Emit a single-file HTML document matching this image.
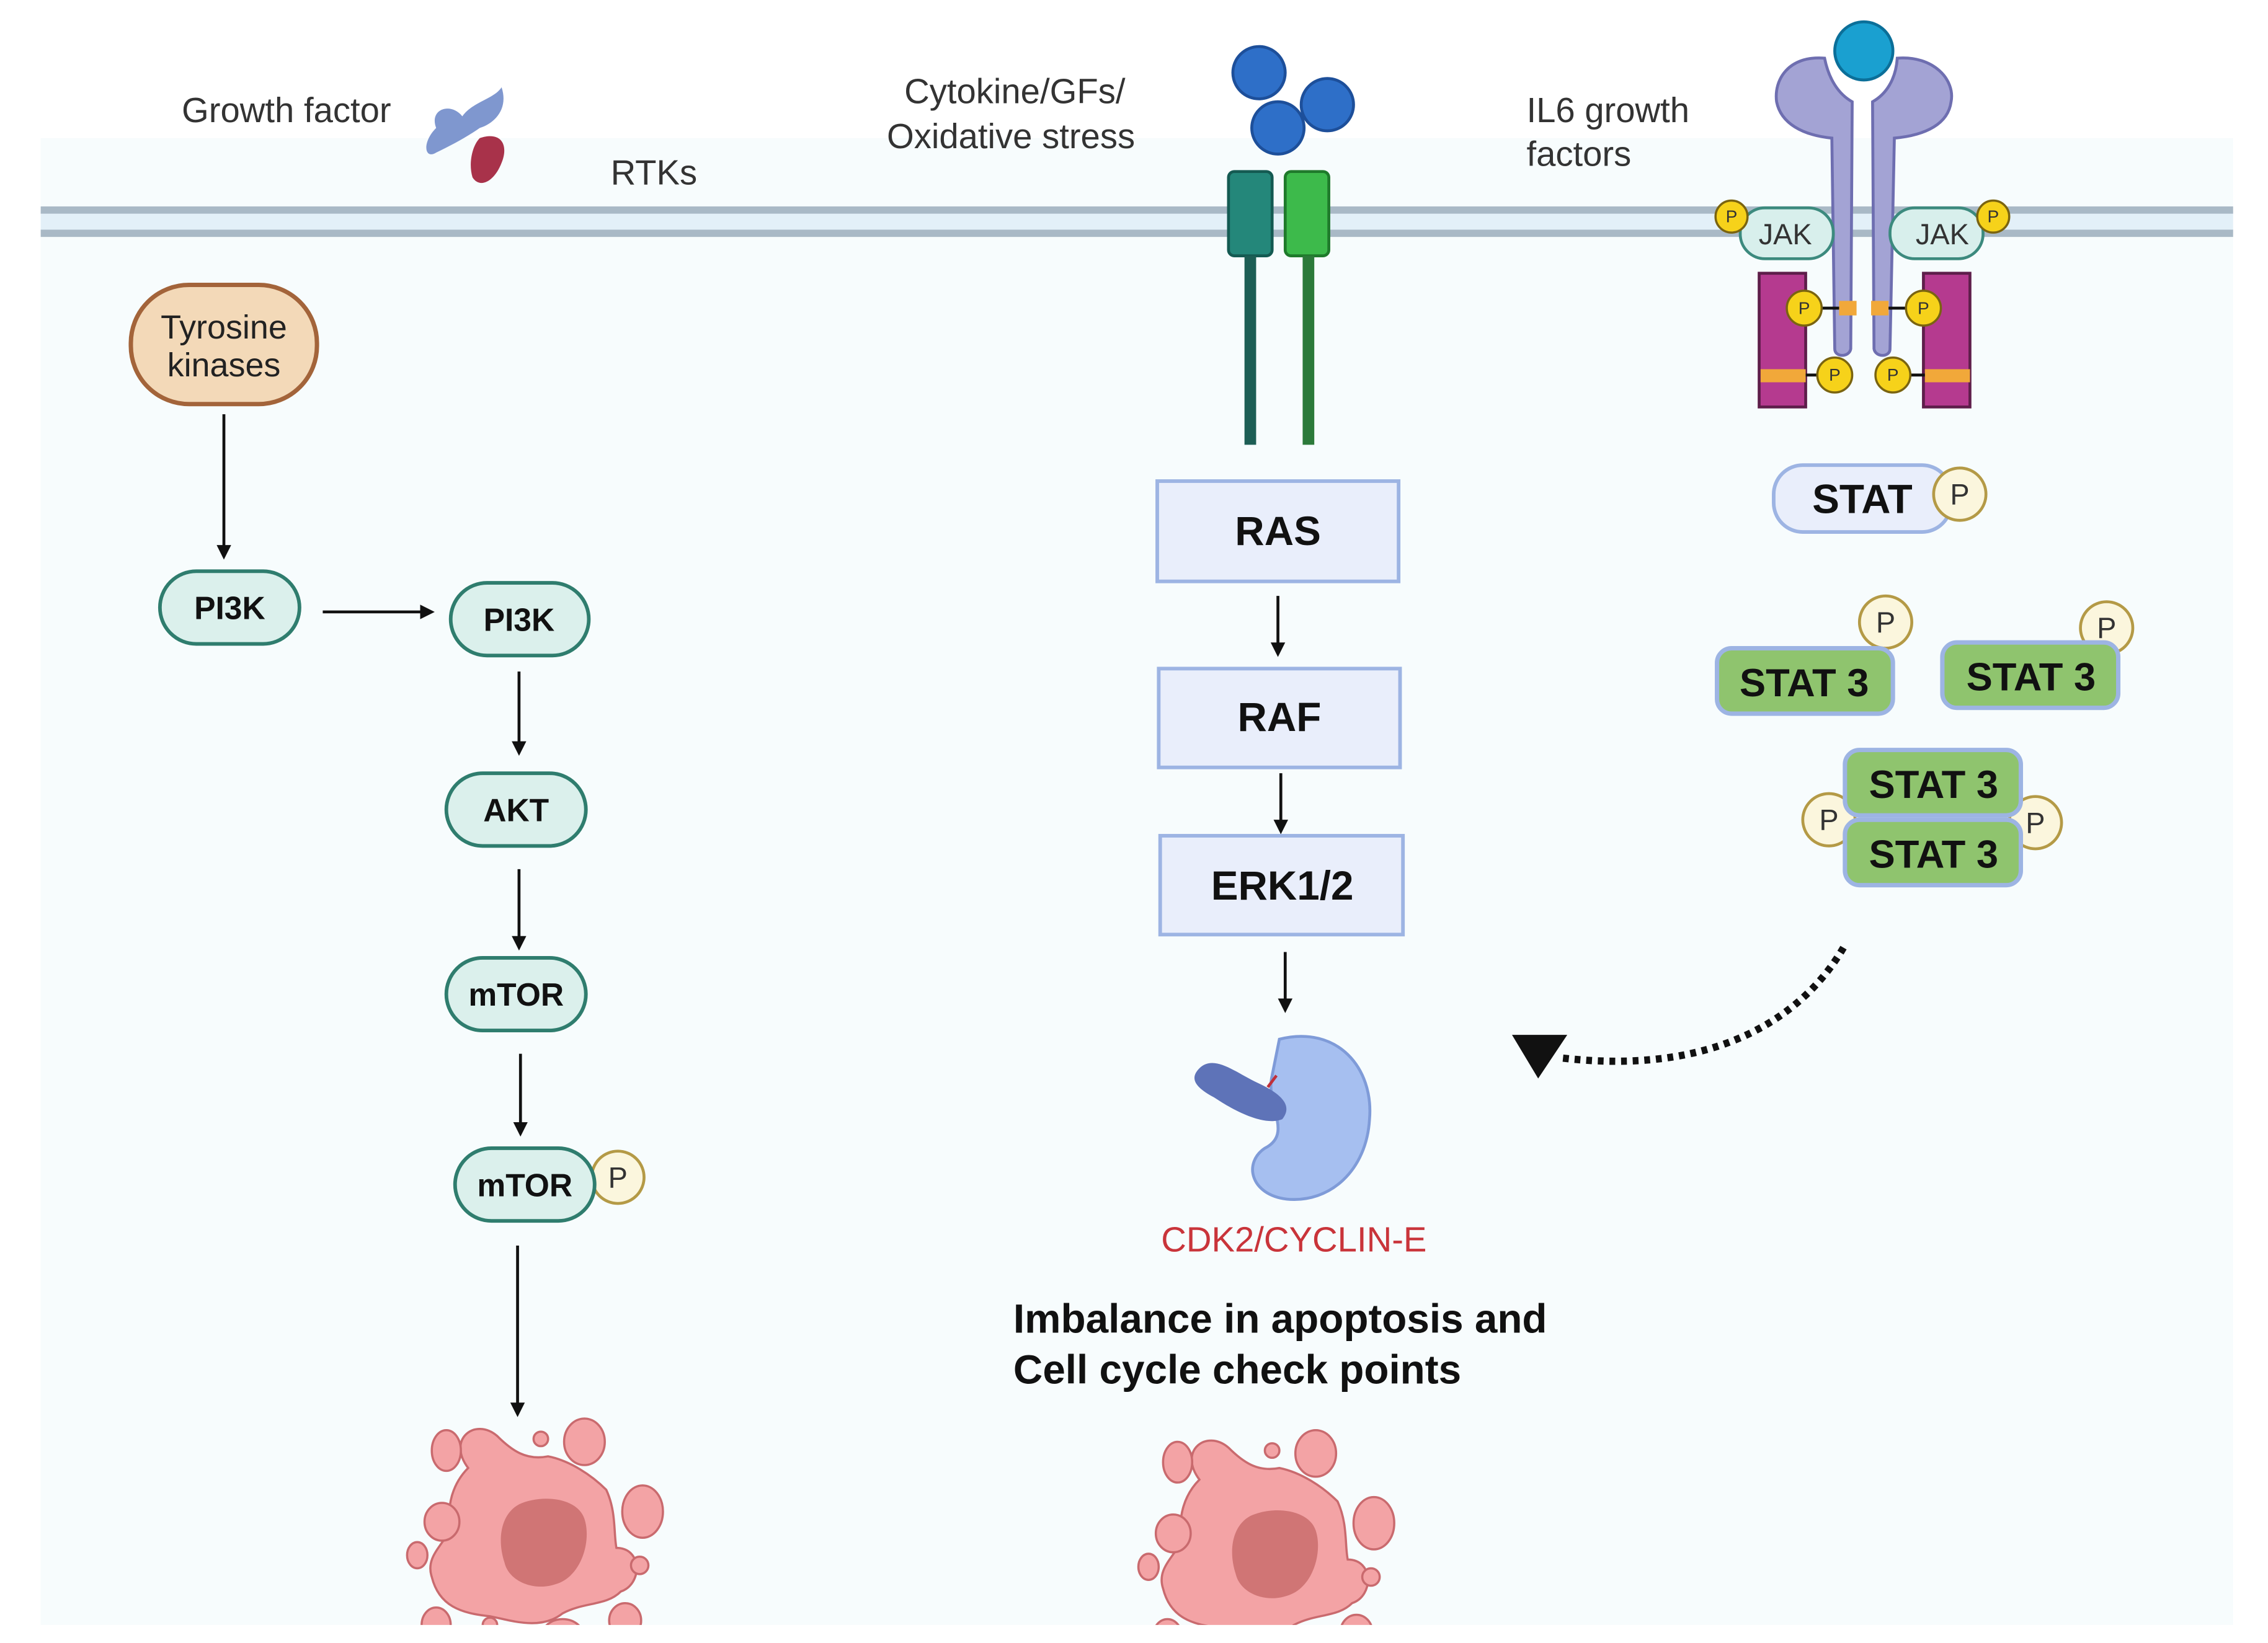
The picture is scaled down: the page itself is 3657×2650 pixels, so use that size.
<!DOCTYPE html>
<html><head><meta charset="utf-8"><style>
html,body{margin:0;padding:0;background:#fff}
svg{display:block}
text{font-family:"Liberation Sans",Arial,sans-serif}
</style></head><body>
<svg width="3657" height="2650" viewBox="0 0 1560 1130.4" xmlns="http://www.w3.org/2000/svg">
<defs>
<marker id="ah" markerWidth="10" markerHeight="10" refX="8" refY="5" orient="auto" markerUnits="userSpaceOnUse"><path d="M0,0 L10,5 L0,10 z" fill="#111"/></marker>
<clipPath id="pc"><rect x="28" y="95" width="1508" height="1023"/></clipPath>
<g id="cell">
<g fill="#f3a3a5" stroke="#c96a6e" stroke-width="1.5">
<path d="M-40,-40 C-55,-60 -35,-75 -20,-62 C-10,-52 0,-45 15,-48 C30,-45 45,-35 55,-25 C62,-10 60,5 62,15 C80,15 80,40 65,45 C55,55 40,52 25,60 C10,72 -10,65 -25,62 C-45,60 -60,55 -65,35 C-70,20 -55,12 -52,0 C-55,-15 -50,-30 -40,-40 z"/>
<ellipse cx="-55" cy="-52" rx="10" ry="14"/>
<ellipse cx="40" cy="-58" rx="14" ry="16"/>
<ellipse cx="-58" cy="-3" rx="12" ry="13"/>
<ellipse cx="80" cy="-10" rx="14" ry="18"/>
<ellipse cx="-75" cy="20" rx="7" ry="9"/>
<ellipse cx="-62" cy="68" rx="10" ry="12"/>
<ellipse cx="25" cy="75" rx="14" ry="11"/>
<ellipse cx="68" cy="65" rx="11" ry="12"/>
<circle cx="-25" cy="68" r="5"/>
<circle cx="10" cy="-60" r="5"/>
<circle cx="78" cy="27" r="6"/>
</g>
<path d="M-5,-15 C10,-22 35,-20 40,-5 C45,10 38,35 20,40 C5,45 -12,38 -15,25 C-20,10 -18,-8 -5,-15 z" fill="#d07575"/>
</g>
</defs>
<rect x="28" y="95" width="1508" height="1023" fill="#f7fcfd"/>
<!-- membrane -->
<rect x="28" y="145" width="1508" height="15" fill="#e3f0f8"/>
<rect x="28" y="142" width="1508" height="5" fill="#a9b9c6"/>
<rect x="28" y="158" width="1508" height="5" fill="#a9b9c6"/>

<!-- top labels -->
<text x="125" y="84" font-size="24" fill="#333">Growth factor</text>
<text x="420" y="127" font-size="24" fill="#333">RTKs</text>
<text x="622" y="71" font-size="24" fill="#333">Cytokine/GFs/</text>
<text x="610" y="102" font-size="24" fill="#333">Oxidative stress</text>
<text x="1050" y="84" font-size="24" fill="#333">IL6 growth</text>
<text x="1050" y="114" font-size="24" fill="#333">factors</text>

<!-- growth factor glyph -->
<path d="M300,88 C295,75 310,70 318,80 C325,70 340,68 345,60 C350,75 340,85 330,88 C320,95 310,100 300,105 C292,110 290,98 300,88 z" fill="#7f97cf"/>
<path d="M330,95 C345,90 350,100 345,112 C340,125 330,130 325,122 C322,112 325,100 330,95 z" fill="#a8324a"/>

<!-- cytokine balls -->
<circle cx="866" cy="50" r="18" fill="#2e6fc8" stroke="#1d4f9a" stroke-width="2"/>
<circle cx="879" cy="88" r="18" fill="#2e6fc8" stroke="#1d4f9a" stroke-width="2"/>
<circle cx="913" cy="72" r="18" fill="#2e6fc8" stroke="#1d4f9a" stroke-width="2"/>
<!-- receptor -->
<rect x="845" y="118" width="30" height="58" rx="4" fill="#24877a" stroke="#145a52" stroke-width="2"/>
<rect x="884" y="118" width="30" height="58" rx="4" fill="#3dba4b" stroke="#1f7a2b" stroke-width="2"/>
<rect x="856" y="176" width="8" height="130" fill="#1d5e55"/>
<rect x="896" y="176" width="8" height="130" fill="#2c7a3a"/>

<!-- IL6 receptor -->
<path d="M1255,40 C1230,38 1220,55 1222,70 C1225,85 1240,93 1260,95 L1262,240 C1262,246 1272,246 1273,240 L1274,70 C1265,65 1258,55 1255,40 z" fill="#a3a3d4" stroke="#6e6eb0" stroke-width="2"/>
<path d="M1305,40 C1330,38 1345,55 1342,70 C1340,85 1325,93 1303,95 L1300,240 C1300,246 1290,246 1289,240 L1288,70 C1297,65 1304,55 1305,40 z" fill="#a3a3d4" stroke="#6e6eb0" stroke-width="2"/>
<circle cx="1282" cy="35" r="20" fill="#1aa0d0" stroke="#0b6f99" stroke-width="2"/>
<!-- JAKs -->
<rect x="1197" y="143" width="64" height="35" rx="17" fill="#d8efec" stroke="#3c8a7e" stroke-width="2"/>
<text x="1228" y="168" font-size="20" fill="#333" text-anchor="middle">JAK</text>
<rect x="1300" y="143" width="64" height="35" rx="17" fill="#d8efec" stroke="#3c8a7e" stroke-width="2"/>
<text x="1336" y="168" font-size="20" fill="#333" text-anchor="middle">JAK</text>
<!-- magenta -->
<path d="M1210,188 L1242,188 L1242,280 L1210,280 z" fill="#b53a8f" stroke="#5e1d4a" stroke-width="2"/>
<path d="M1323,188 L1355,188 L1355,280 L1323,280 z" fill="#b53a8f" stroke="#5e1d4a" stroke-width="2"/>
<rect x="1211" y="254" width="31" height="9" fill="#f1a83a"/>
<rect x="1324" y="254" width="31" height="9" fill="#f1a83a"/>
<rect x="1265" y="207" width="12" height="10" fill="#f1a83a"/>
<rect x="1287" y="207" width="12" height="10" fill="#f1a83a"/>
<line x1="1248" y1="212" x2="1265" y2="212" stroke="#111" stroke-width="2"/>
<line x1="1299" y1="212" x2="1316" y2="212" stroke="#111" stroke-width="2"/>
<line x1="1242" y1="258" x2="1255" y2="258" stroke="#111" stroke-width="2"/>
<line x1="1311" y1="258" x2="1324" y2="258" stroke="#111" stroke-width="2"/>
<g fill="#f6d21a" stroke="#7a6410" stroke-width="1.5" font-size="11">
<circle cx="1191" cy="149" r="11"/><circle cx="1371" cy="149" r="11"/>
<circle cx="1241" cy="212" r="12"/><circle cx="1323" cy="212" r="12"/>
<circle cx="1262" cy="258" r="12"/><circle cx="1302" cy="258" r="12"/>
</g>
<g font-size="12" fill="#333" text-anchor="middle">
<text x="1191" y="153">P</text><text x="1371" y="153">P</text>
<text x="1241" y="216">P</text><text x="1323" y="216">P</text>
<text x="1262" y="262">P</text><text x="1302" y="262">P</text>
</g>

<!-- STAT -->
<rect x="1220" y="320" width="122" height="46" rx="20" fill="#e9eefb" stroke="#9db4e3" stroke-width="2.5"/>
<text x="1281" y="353" font-size="28" font-weight="bold" fill="#111" text-anchor="middle">STAT</text>
<g fill="#fbf6dd" stroke="#b49a46" stroke-width="2">
<circle cx="1348" cy="340" r="18"/>
<circle cx="1297" cy="428" r="18"/>
<circle cx="1449" cy="432" r="18"/>
<circle cx="1258" cy="564" r="18"/>
<circle cx="1400" cy="566" r="18"/>
<circle cx="425" cy="810" r="18"/>
</g>
<g font-size="20" fill="#333" text-anchor="middle">
<text x="1348" y="347">P</text><text x="1297" y="435">P</text><text x="1449" y="439">P</text>
<text x="1258" y="571">P</text><text x="1400" y="573">P</text><text x="425" y="817">P</text>
</g>
<g fill="#8fc46e" stroke="#9db4e3" stroke-width="3">
<rect x="1181" y="446" width="121" height="45" rx="10"/>
<rect x="1336" y="442" width="121" height="45" rx="10"/>
<rect x="1269" y="516" width="121" height="45" rx="10"/>
<rect x="1269" y="564" width="121" height="45" rx="10"/>
</g>
<g font-size="27" font-weight="bold" fill="#111" text-anchor="middle">
<text x="1241" y="479">STAT 3</text><text x="1397" y="475">STAT 3</text>
<text x="1330" y="549">STAT 3</text><text x="1330" y="597">STAT 3</text>
</g>
<!-- dotted curved arrow -->
<path d="M1268,652 C1240,700 1180,740 1075,728" fill="none" stroke="#111" stroke-width="5" stroke-dasharray="4,4"/>
<path d="M1040,712 L1078,712 L1058,742 z" fill="#111"/>

<!-- left pathway -->
<rect x="90" y="196" width="128" height="82" rx="40" fill="#f3d9b8" stroke="#a3643a" stroke-width="3"/>
<text x="154" y="233" font-size="23" fill="#222" text-anchor="middle">Tyrosine</text>
<text x="154" y="259" font-size="23" fill="#222" text-anchor="middle">kinases</text>
<g fill="#dbf0ec" stroke="#2f7d6e" stroke-width="2.5">
<rect x="110" y="393" width="96" height="50" rx="25"/>
<rect x="310" y="401" width="95" height="50" rx="25"/>
<rect x="307" y="532" width="96" height="50" rx="25"/>
<rect x="307" y="659" width="96" height="50" rx="25"/>
<rect x="313" y="790" width="96" height="50" rx="25"/>
</g>
<g font-size="22" font-weight="bold" fill="#111" text-anchor="middle">
<text x="158" y="426">PI3K</text><text x="357" y="434">PI3K</text>
<text x="355" y="565">AKT</text><text x="355" y="692">mTOR</text><text x="361" y="823">mTOR</text>
</g>
<g stroke="#111" stroke-width="2" marker-end="url(#ah)">
<line x1="154" y1="285" x2="154" y2="383"/>
<line x1="222" y1="421" x2="297" y2="421"/>
<line x1="357" y1="462" x2="357" y2="518"/>
<line x1="357" y1="598" x2="357" y2="652"/>
<line x1="358" y1="725" x2="358" y2="780"/>
<line x1="356" y1="857" x2="356" y2="973"/>
<line x1="879" y1="410" x2="879" y2="450"/>
<line x1="881" y1="532" x2="881" y2="572"/>
<line x1="884" y1="655" x2="884" y2="695"/>
</g>

<!-- middle boxes -->
<g fill="#e9eefb" stroke="#9db4e3" stroke-width="2.5">
<rect x="796" y="331" width="166" height="69"/>
<rect x="797" y="460" width="166" height="68"/>
<rect x="798" y="575" width="167" height="68"/>
</g>
<g font-size="28" font-weight="bold" fill="#111" text-anchor="middle">
<text x="879" y="375">RAS</text><text x="880" y="503">RAF</text><text x="882" y="619">ERK1/2</text>
</g>
<!-- CDK2/cyclin -->
<path d="M880,715 C920,705 945,735 942,770 C940,805 915,828 885,825 C860,822 855,800 870,790 C890,780 870,760 875,740 z" fill="#a6bff0" stroke="#7f9bd8" stroke-width="2"/>
<path d="M825,735 C835,725 850,738 865,745 C880,752 890,760 882,770 C870,775 850,765 835,755 C822,748 818,742 825,735 z" fill="#5e73b8"/>
<line x1="872" y1="748" x2="878" y2="740" stroke="#c0303a" stroke-width="2"/>
<text x="890" y="861" font-size="24" fill="#c9343a" text-anchor="middle">CDK2/CYCLIN-E</text>
<text x="697" y="917" font-size="28" font-weight="bold" fill="#111">Imbalance in apoptosis and</text>
<text x="697" y="952" font-size="28" font-weight="bold" fill="#111">Cell cycle check points</text>

<g clip-path="url(#pc)">
<use href="#cell" transform="translate(362,1050)"/>
<use href="#cell" transform="translate(865,1058)"/>
</g>
</svg>
</body></html>
